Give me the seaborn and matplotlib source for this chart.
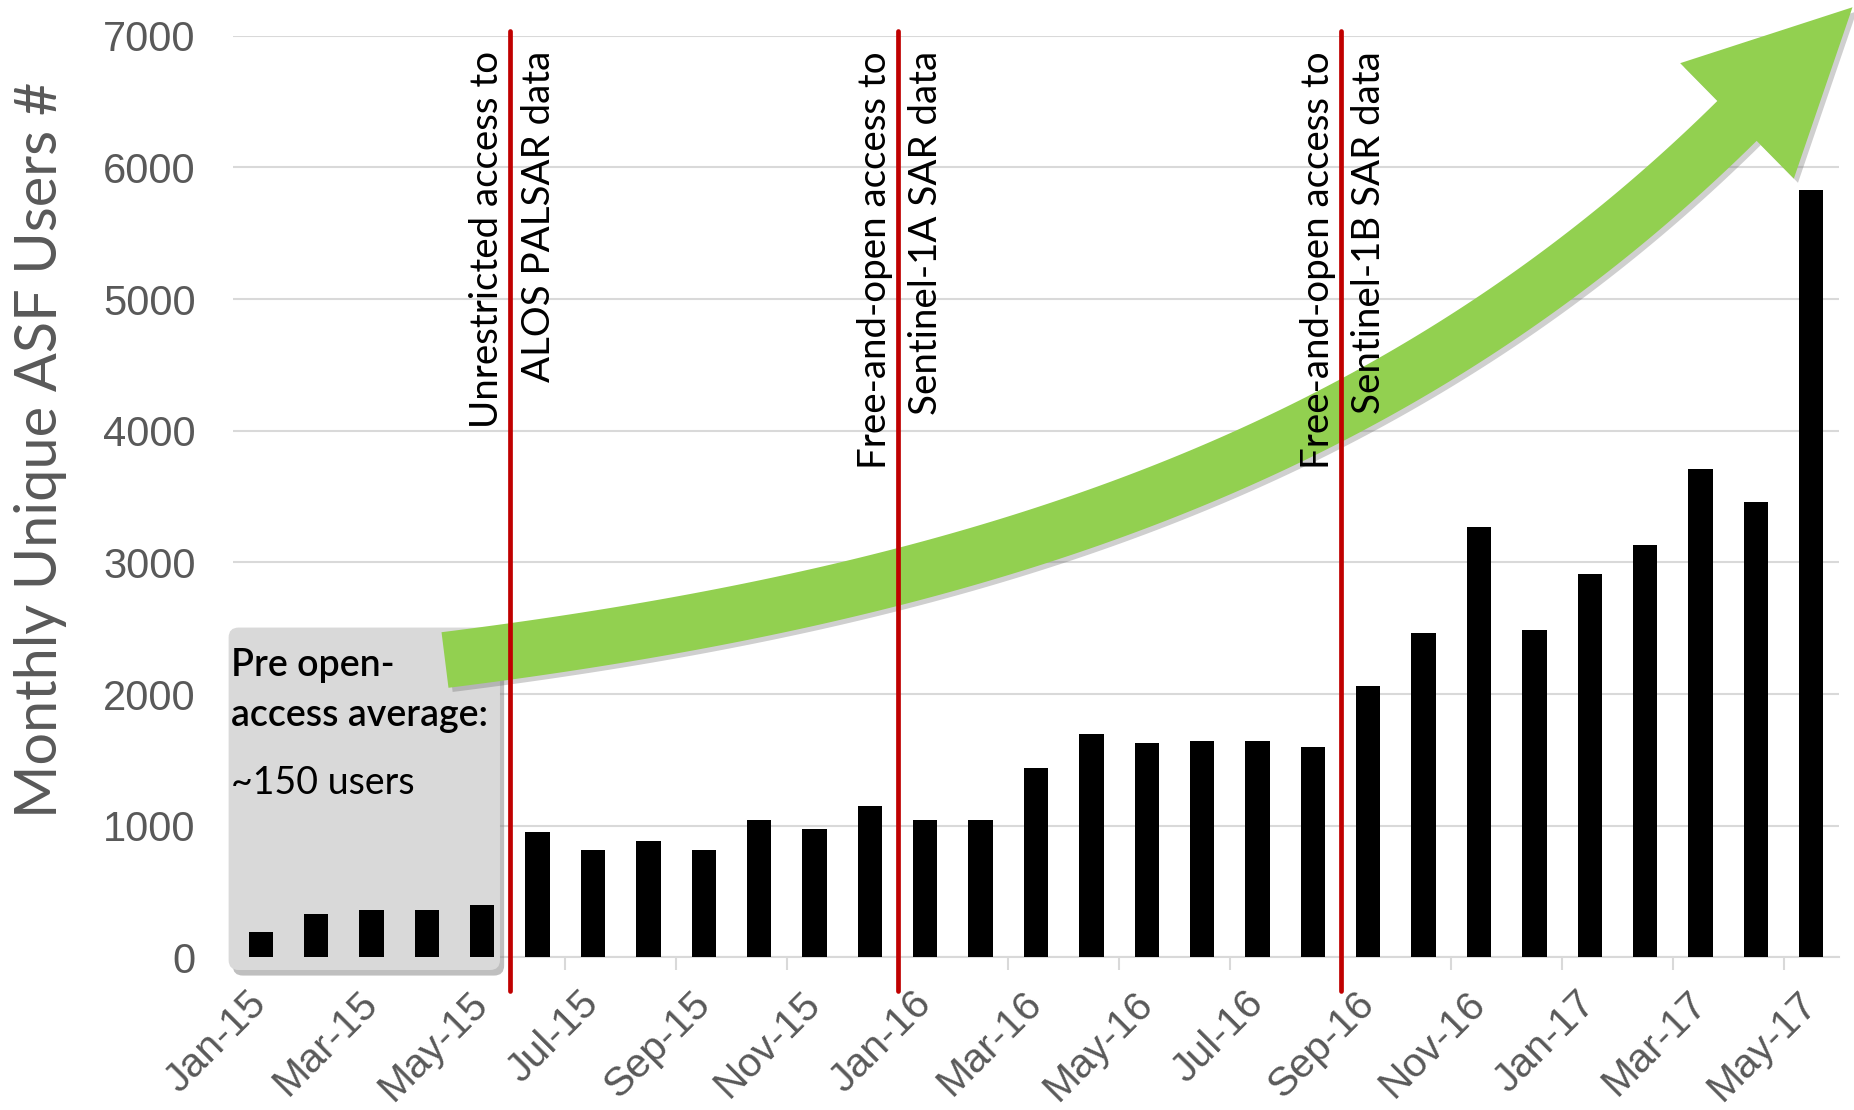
import numpy as np
import pandas as pd
import seaborn as sns
import matplotlib.pyplot as plt
import matplotlib.patheffects as pe
from matplotlib.patches import FancyBboxPatch, Polygon
from matplotlib.transforms import IdentityTransform, offset_copy

# monthly unique users
months = ['Jan-15', 'Feb-15', 'Mar-15', 'Apr-15', 'May-15', 'Jun-15', 'Jul-15', 'Aug-15',
          'Sep-15', 'Oct-15', 'Nov-15', 'Dec-15', 'Jan-16', 'Feb-16', 'Mar-16', 'Apr-16',
          'May-16', 'Jun-16', 'Jul-16', 'Aug-16', 'Sep-16', 'Oct-16', 'Nov-16', 'Dec-16',
          'Jan-17', 'Feb-17', 'Mar-17', 'Apr-17', 'May-17']
users = [195, 333, 360, 360, 398, 955, 819, 887, 818, 1047, 977, 1153, 1047, 1047, 1438,
         1694, 1627, 1640, 1640, 1600, 2061, 2466, 3266, 2490, 2911, 3130, 3710, 3455, 5827]
yticks = [0, 1000, 2000, 3000, 4000, 5000, 6000, 7000]

# events: a red line is drawn right after these months
event_after = ['May-15', 'Dec-15', 'Aug-16']
event_lines = [('Unrestricted access to', 'ALOS PALSAR data'),
               ('Free-and-open access to', 'Sentinel-1A SAR data'),
               ('Free-and-open access to', 'Sentinel-1B SAR data')]

GRAY_TXT = '#595959'
GRID = '#D9D9D9'
GREEN = '#92D050'
LATO = ['Lato', 'DejaVu Sans']

sns.set_theme(style='white')
plt.rcParams['font.family'] = ['Liberation Sans', 'DejaVu Sans']

W, H = 1854, 1110
fig = plt.figure(figsize=(W / 100, H / 100), dpi=100)
ax = fig.add_axes([0.1257, 0.1375, 0.8662, 0.8303])

df = pd.DataFrame({'month': months, 'users': users})
sns.barplot(data=df, x='month', y='users', color='black', saturation=1, width=0.44,
            linewidth=0, ax=ax, zorder=6)

ax.set_xlim(-0.5, len(months) - 0.5)
ax.set_ylim(0, 7000)
ax.set_yticks(yticks)
ax.yaxis.grid(True, color=GRID, lw=1.5)
ax.set_axisbelow(True)
for s in ['left', 'right', 'top']:
    ax.spines[s].set_visible(False)
ax.spines['bottom'].set_color(GRID)
ax.spines['bottom'].set_linewidth(1.5)

# x ticks: labels every 2 months, tick marks between months
ax.set_xticks(range(0, len(months), 2))
ax.set_xticklabels(months[::2], rotation=45, ha='right', va='center', rotation_mode='anchor')
ax.set_xticks(np.arange(1.5, len(months) - 1, 2), minor=True)
ax.tick_params(axis='x', which='major', length=0, pad=29, labelsize=29.5, labelcolor=GRAY_TXT)
ax.tick_params(axis='x', which='minor', length=9.5, width=1.5, color=GRID, bottom=True)
ax.tick_params(axis='y', length=0, pad=27, labelsize=30, labelcolor=GRAY_TXT)

ax.set_xlabel('')
ax.set_ylabel('Monthly Unique ASF Users #', fontsize=41.5, color=GRAY_TXT, family=LATO)
ax.yaxis.set_label_coords(-0.1034, 0.5505)

# event lines and their two-line labels (one line each side of the red line)
left_tr = offset_copy(ax.transData, fig, x=-8.5, y=0, units='points')
right_tr = offset_copy(ax.transData, fig, x=28.5, y=0, units='points')
for m, (l1, l2) in zip(event_after, event_lines):
    xpos = months.index(m) + 0.5
    ax.axvline(xpos, ymin=-0.037, ymax=1.005, color='#C00000', lw=3.4, clip_on=False, zorder=8)
    for txt, tr in [(l1, left_tr), (l2, right_tr)]:
        ax.text(xpos, 6885, txt, rotation=90, rotation_mode='anchor', ha='right',
                va='baseline', fontsize=27.7, family=LATO, color='black', transform=tr,
                zorder=9)

# pre open-access box
(bx0, by0), (bx1, by1) = ax.transData.transform([(-0.58, -96), (4.32, 2505)])
box = FancyBboxPatch((bx0, by0), bx1 - bx0, by1 - by0, boxstyle='round,pad=0,rounding_size=10',
                     transform=IdentityTransform(), facecolor=GRID, edgecolor='none',
                     clip_on=False, zorder=5,
                     path_effects=[pe.SimplePatchShadow(offset=(3, -4), shadow_rgbFace='#808080',
                                                        alpha=0.5), pe.Normal()])
ax.add_patch(box)
for txt, yb, wt in [('Pre open-', 2140, 'semibold'), ('access average:', 1755, 'semibold'),
                    ('~150 users', 1243, 'normal')]:
    ax.text(-0.54, yb, txt, ha='left', va='baseline', fontsize=27, family=LATO,
            fontweight=wt, color='black', zorder=7)

# green growth arrow (decorative), built in figure pixels, y measured from the top
xc = np.linspace(445, 1737, 300)
yc = 660 - 78.1 * (np.exp(0.0016 * (xc - 445)) - 1)
tang = np.stack([np.ones_like(xc), np.gradient(yc, xc)], axis=1)
tang /= np.linalg.norm(tang, axis=1, keepdims=True)
norm = np.stack([-tang[:, 1], tang[:, 0]], axis=1)
centre = np.stack([xc, yc], axis=1)
half_body, half_head, head_len = 28, 81, 162
upper = centre - norm * half_body
lower = centre + norm * half_body
tip = centre[-1] + tang[-1] * head_len
head = [centre[-1] - norm[-1] * half_head, tip, centre[-1] + norm[-1] * half_head]
pts = np.vstack([upper, head, lower[::-1]])
pts = np.column_stack([pts[:, 0] / W, 1 - pts[:, 1] / H])
arrow = Polygon(pts, closed=True, transform=fig.transFigure, facecolor=GREEN, edgecolor='none',
                clip_on=False, zorder=5.5,
                path_effects=[pe.SimplePatchShadow(offset=(3, -3), shadow_rgbFace='#606060',
                                                   alpha=0.3), pe.Normal()])
ax.add_patch(arrow)

fig.savefig('out.png', dpi=100)
